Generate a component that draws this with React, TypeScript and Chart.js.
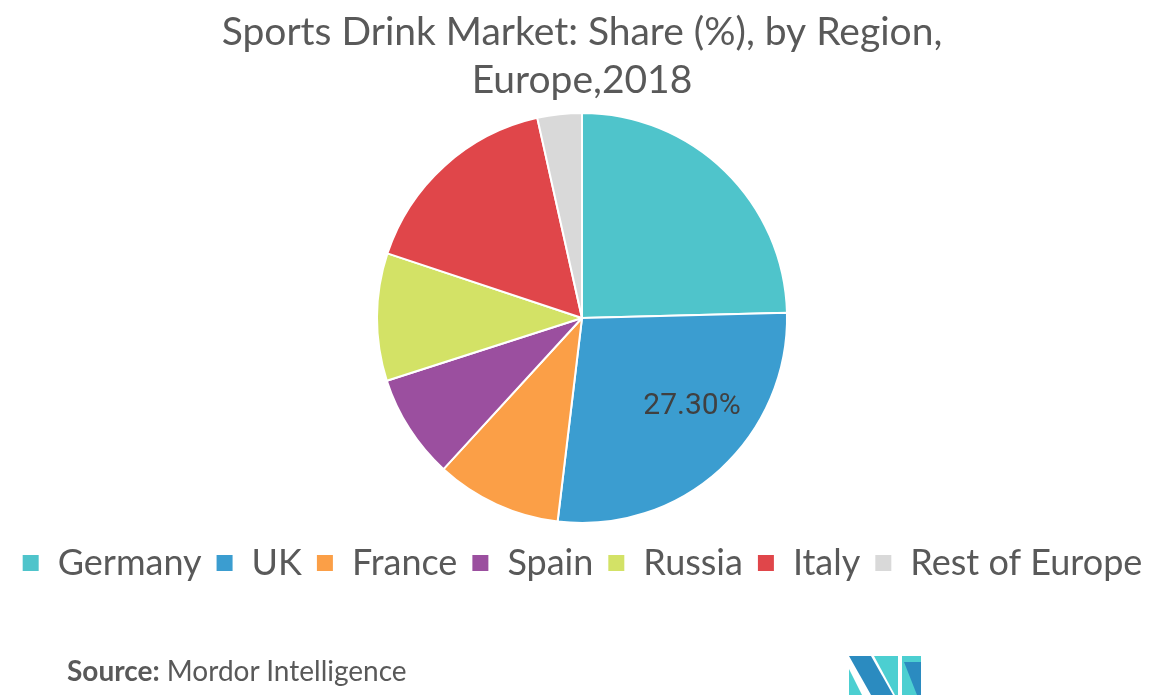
import React, { useEffect, useRef } from "react";
import { Chart, registerables } from "chart.js";

Chart.register(...registerables);

const regions = ["Germany", "UK", "France", "Spain", "Russia", "Italy", "Rest of Europe"];
const shares = [24.6, 27.3, 9.9, 8.25, 10.05, 16.4, 3.5];
const colors = ["#4fc4cb", "#3b9dd0", "#fb9f47", "#9b4f9f", "#d3e266", "#e0464a", "#d9d9d9"];
const labelledRegion = "UK";
const titleLines = ["Sports Drink Market: Share (%), by Region,", "Europe,2018"];

const FONT = "Lato, 'Open Sans', sans-serif";

const sliceLabel = {
  id: "sliceLabel",
  afterDatasetsDraw(chart: any) {
    const idx = regions.indexOf(labelledRegion);
    const arc = chart.getDatasetMeta(0).data[idx];
    if (!arc) return;
    const p = arc.tooltipPosition();
    const ctx = chart.ctx;
    ctx.save();
    ctx.font = "30px Roboto, sans-serif";
    ctx.fillStyle = "#404040";
    ctx.textAlign = "center";
    ctx.textBaseline = "middle";
    ctx.fillText(shares[idx].toFixed(2) + "%", p.x + 41, p.y + 13);
    ctx.restore();
  },
};

export default function App() {
  const ref = useRef<HTMLCanvasElement>(null);
  useEffect(() => {
    if (!ref.current) return;
    const chart = new Chart(ref.current, {
      type: "pie",
      data: {
        labels: regions,
        datasets: [
          {
            data: shares,
            backgroundColor: colors,
            borderColor: "#ffffff",
            borderWidth: 2,
          },
        ],
      },
      options: {
        responsive: false,
        animation: false,
        layout: { padding: { top: 0, bottom: 106, left: 0, right: 0 } },
        plugins: {
          title: {
            display: true,
            text: titleLines,
            color: "#595959",
            font: { family: FONT, size: 39, weight: "400" as any, lineHeight: 1.23 },
            padding: { top: 8, bottom: 8 },
          },
          legend: {
            position: "bottom",
            title: {
              display: true,
              text: "",
              font: { size: 1, lineHeight: 1 },
              padding: { top: 6, bottom: 0 },
            },
            labels: {
              color: "#595959",
              font: { family: FONT, size: 36, weight: "400" as any },
              boxWidth: 18,
              boxHeight: 18,
              padding: 14,
            },
          },
          tooltip: { enabled: false },
        },
      },
      plugins: [sliceLabel],
    });
    return () => chart.destroy();
  }, []);

  return (
    <div style={{ position: "absolute", left: 0, top: 0, width: 1164, height: 697, background: "#fff" }}>
      <canvas ref={ref} width={1164} height={697} />
      <div
        style={{
          position: "absolute",
          left: 67,
          top: 654,
          fontFamily: FONT,
          fontSize: 28,
          lineHeight: "33px",
          color: "#595959",
          whiteSpace: "nowrap",
        }}
      >
        <span style={{ fontWeight: 700 }}>Source:</span>
        <span style={{ fontWeight: 400 }}> Mordor Intelligence</span>
      </div>
      <svg style={{ position: "absolute", left: 849, top: 656 }} width={72} height={39}>
        <polygon points="0,0 22,0 44,39 22,39" fill="#2b8bc0" />
        <polygon points="0,13 13,39 0,39" fill="#4ccfd1" />
        <polygon points="25,0 49,0 49,39 46,39" fill="#4ccfd1" />
        <polygon points="53,0 72,0 72,39 53,39" fill="#4ccfd1" />
        <polygon points="55,6 72,6 72,39 68,39" fill="#2b8bc0" />
      </svg>
    </div>
  );
}
